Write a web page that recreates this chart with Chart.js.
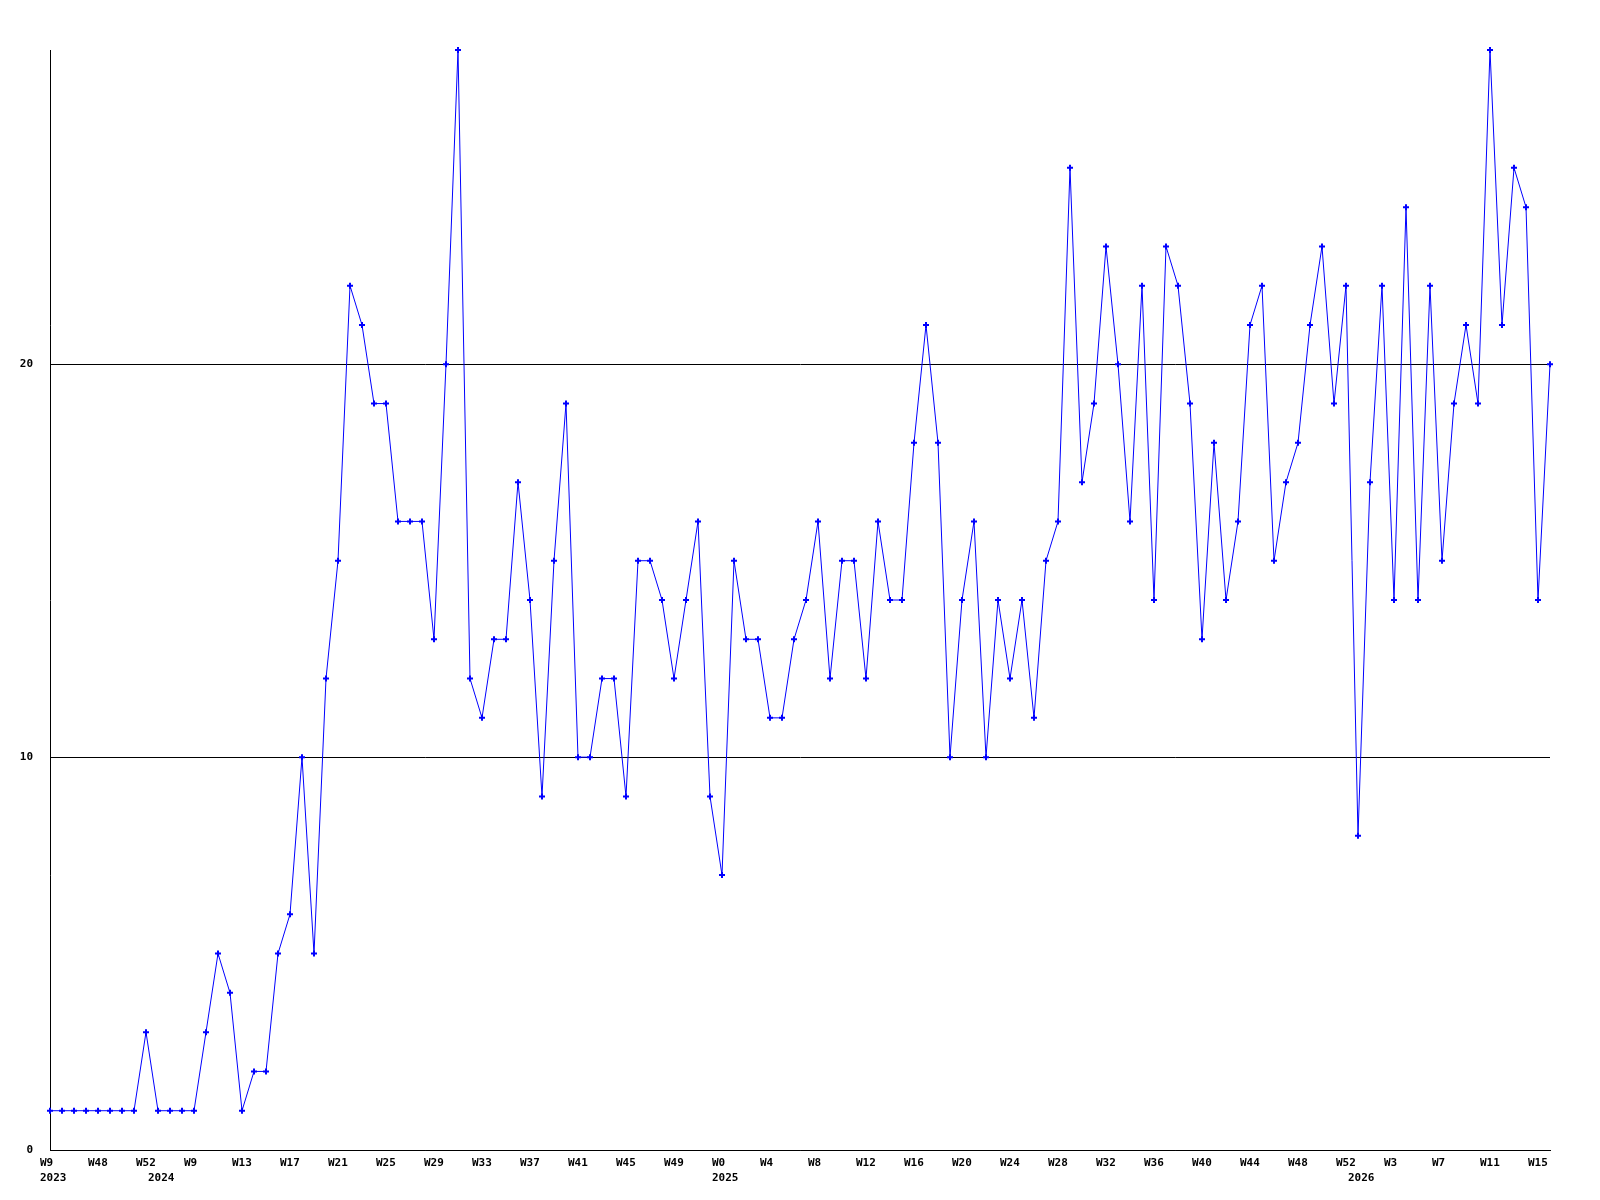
<!DOCTYPE html>
<html>
<head>
<meta charset="utf-8">
<script src="https://cdn.jsdelivr.net/npm/chart.js"></script>
<style>
  body { margin: 0; background: #fff; }
  #wrap { width: 1600px; height: 1200px; }
</style>
</head>
<body>
<div id="wrap"><canvas id="weekly"></canvas></div>
<script>
// labels shown every 4th point
const tickWeeks = ['W9', 'W48', 'W52', 'W9', 'W13', 'W17', 'W21', 'W25', 'W29', 'W33', 'W37',
    'W41', 'W45', 'W49', 'W0', 'W4', 'W8', 'W12', 'W16', 'W20', 'W24', 'W28', 'W32', 'W36',
    'W40', 'W44', 'W48', 'W52', 'W3', 'W7', 'W11', 'W15'];
// year printed under the point where it starts
const tickYears = { 0: '2023', 9: '2024', 56: '2025', 109: '2026' };

const weeklyValues = [
    1, 1, 1, 1, 1, 1, 1, 1, 3, 1, 1, 1, 1, 3, 5, 4, 1, 2, 2, 5,
    6, 10, 5, 12, 15, 22, 21, 19, 19, 16, 16, 16, 13, 20, 28, 12, 11, 13, 13, 17,
    14, 9, 15, 19, 10, 10, 12, 12, 9, 15, 15, 14, 12, 14, 16, 9, 7, 15, 13, 13,
    11, 11, 13, 14, 16, 12, 15, 15, 12, 16, 14, 14, 18, 21, 18, 10, 14, 16, 10, 14,
    12, 14, 11, 15, 16, 25, 17, 19, 23, 20, 16, 22, 14, 23, 22, 19, 13, 18, 14, 16,
    21, 22, 15, 17, 18, 21, 23, 19, 22, 8, 17, 22, 14, 24, 14, 22, 15, 19, 21, 19,
    28, 21, 25, 24, 14, 20
];

const yMax = 28;

const labels = weeklyValues.map((v, i) => {
    const week = i % 4 === 0 ? tickWeeks[i / 4] : '';
    const year = tickYears[i];
    return year ? [week, year] : week;
});

const tickFont = { family: '"DejaVu Sans Mono", monospace', size: 11, weight: 'bold', lineHeight: 15 / 11 };

const ctx = document.getElementById('weekly').getContext('2d');
const chart = new Chart(ctx, {
    type: 'line',
    data: {
        labels: labels,
        datasets: [{
            data: weeklyValues,
            borderColor: '#0000ff',
            backgroundColor: '#0000ff',
            borderWidth: 1,
            pointStyle: 'cross',
            pointRadius: 3,
            pointBorderWidth: 2,
            pointHoverRadius: 3,
            tension: 0,
            clip: false
        }]
    },
    options: {
        responsive: true,
        maintainAspectRatio: false,
        animation: false,
        layout: { padding: { top: 50, right: 50, left: 0, bottom: 0 } },
        plugins: { legend: { display: false }, tooltip: { enabled: false } },
        scales: {
            x: {
                offset: false,
                grid: { display: false, drawTicks: false },
                border: { color: '#000', width: 1 },
                ticks: {
                    autoSkip: false,
                    maxRotation: 0,
                    minRotation: 0,
                    align: 'start',
                    labelOffset: -10,
                    padding: 6,
                    color: '#000',
                    font: tickFont
                },
                afterFit: s => { s.height = 50; }
            },
            y: {
                min: 0,
                max: yMax,
                grid: { color: '#000', lineWidth: 1, drawTicks: false },
                border: { color: '#000', width: 1 },
                ticks: {
                    stepSize: 10,
                    includeBounds: false,
                    padding: 17,
                    color: '#000',
                    font: tickFont
                },
                afterFit: s => { s.width = 50; }
            }
        }
    }
});
</script>
</body>
</html>
